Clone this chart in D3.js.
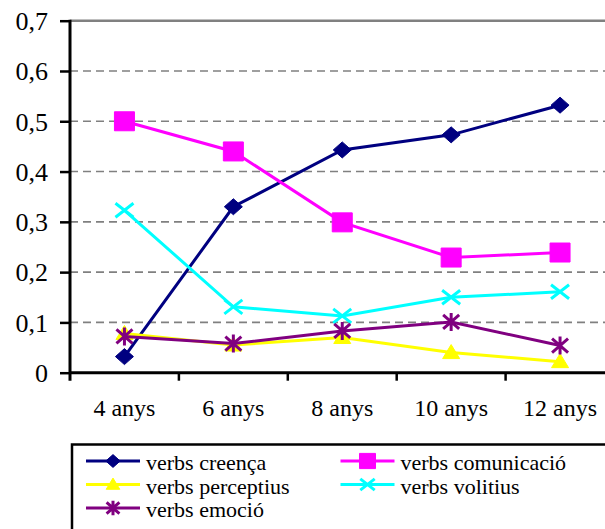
<!DOCTYPE html>
<html>
<head>
<meta charset="utf-8">
<script src="https://cdn.jsdelivr.net/npm/d3@7"></script>
<style>
  html, body { margin: 0; padding: 0; background: #fff; }
  svg { display: block; }
</style>
</head>
<body>
<svg id="chart" width="605" height="529" font-family="Liberation Serif"></svg>
<script>
// Age groups along the x axis
const categories = ["4 anys", "6 anys", "8 anys", "10 anys", "12 anys"];
const yTicks = [0, 0.1, 0.2, 0.3, 0.4, 0.5, 0.6, 0.7];

// Proportion of each verb type per age group
const creenca     = [0.032, 0.330, 0.443, 0.473, 0.532];
const comunicacio = [0.500, 0.440, 0.299, 0.229, 0.239];
const perceptius  = [0.078, 0.055, 0.070, 0.040, 0.022];
const volitius    = [0.323, 0.131, 0.113, 0.150, 0.161];
const emocio      = [0.072, 0.058, 0.083, 0.101, 0.054];

const seriesNames = ["verbs creença", "verbs comunicació", "verbs perceptius", "verbs volitius", "verbs emoció"];
const seriesValues = [creenca, comunicacio, perceptius, volitius, emocio];
const seriesColors = ["#000080", "#FF00FF", "#FFFF00", "#00FFFF", "#800080"];
const seriesMarkers = ["diamond", "square", "triangle", "cross", "star"];

const FONT = "Liberation Serif";
const svg = d3.select("#chart");

const plot = { left: 70, top: 20.7, right: 614.5, bottom: 372.7 };

const x = d3.scaleBand().domain(categories).range([plot.left, plot.right]);
const y = d3.scaleLinear().domain([0, 0.7]).range([plot.bottom, plot.top]);
const cx = c => x(c) + x.bandwidth() / 2;

// Horizontal gridlines (dashed), top border solid
svg.append("g").selectAll("line")
  .data(yTicks.filter(t => t > 0 && t < 0.7))
  .join("line")
  .attr("x1", plot.left).attr("x2", 605)
  .attr("y1", d => y(d)).attr("y2", d => y(d))
  .attr("stroke", "#808080").attr("stroke-width", 1.6)
  .attr("stroke-dasharray", "8,5");

svg.append("line")
  .attr("x1", plot.left).attr("x2", 605)
  .attr("y1", y(0.7)).attr("y2", y(0.7))
  .attr("stroke", "#808080").attr("stroke-width", 2.5);

// Y axis
const yAxis = d3.axisLeft(y)
  .tickValues(yTicks)
  .tickSize(10)
  .tickPadding(12)
  .tickFormat(d => d === 0 ? "0" : d3.format(".1f")(d).replace(".", ","));

const gy = svg.append("g").attr("transform", `translate(${plot.left},0)`).call(yAxis);
gy.attr("font-family", FONT).attr("font-size", 26);
gy.select(".domain").remove();
gy.selectAll(".tick line").attr("stroke", "#000").attr("stroke-width", 2.5);
gy.selectAll(".tick text")
  .attr("font-family", FONT)
  .attr("font-size", 26)
  .attr("fill", "#000")
  .attr("dy", "0.34em");
svg.append("line")
  .attr("x1", plot.left).attr("x2", plot.left)
  .attr("y1", plot.top - 1).attr("y2", plot.bottom + 8)
  .attr("stroke", "#000").attr("stroke-width", 3);

// X axis: ticks between categories, labels centred
const gx = svg.append("g").attr("transform", `translate(0,${plot.bottom})`);
gx.append("line")
  .attr("x1", plot.left).attr("x2", 605)
  .attr("y1", 0).attr("y2", 0)
  .attr("stroke", "#000").attr("stroke-width", 3);
gx.selectAll("line.tk")
  .data(categories.slice(1))
  .join("line")
  .attr("class", "tk")
  .attr("x1", d => x(d)).attr("x2", d => x(d))
  .attr("y1", 0).attr("y2", 8)
  .attr("stroke", "#000").attr("stroke-width", 2.5);
gx.selectAll("text")
  .data(categories)
  .join("text")
  .attr("x", d => cx(d))
  .attr("y", 43.5)
  .attr("text-anchor", "middle")
  .attr("font-family", FONT)
  .attr("font-size", 24)
  .attr("fill", "#000")
  .text(d => d);

// Marker shapes
function markerPath(type, s) {
  switch (type) {
    case "diamond": return `M0,${-8*s}L${9*s},0L0,${8*s}L${-9*s},0Z`;
    case "square": return `M${-10*s},${-9.5*s}H${10*s}V${9.5*s}H${-10*s}Z`;
    case "triangle": return `M0,${-8*s}L${8.5*s},${6*s}L${-8.5*s},${6*s}Z`;
    case "cross": return `M${-9*s},${-7*s}L${9*s},${7*s}M${9*s},${-7*s}L${-9*s},${7*s}`;
    case "star": return `M${-8*s},${-7*s}L${8*s},${7*s}M${8*s},${-7*s}L${-8*s},${7*s}M0,${-9*s}V${9*s}`;
  }
}
function drawMarker(sel, type, color, s) {
  const filled = type === "diamond" || type === "square" || type === "triangle";
  sel.append("path")
    .attr("d", markerPath(type, s))
    .attr("fill", filled ? color : "none")
    .attr("stroke", color)
    .attr("stroke-width", filled ? 1 : 3);
}

// Series lines and markers
const line = d3.line().x((d, i) => cx(categories[i])).y(d => y(d));
seriesValues.forEach((vals, k) => {
  const g = svg.append("g");
  g.append("path")
    .attr("d", line(vals))
    .attr("fill", "none")
    .attr("stroke", seriesColors[k])
    .attr("stroke-width", 3);
  vals.forEach((v, i) => {
    const m = g.append("g").attr("transform", `translate(${cx(categories[i])},${y(v)})`);
    drawMarker(m, seriesMarkers[k], seriesColors[k], 1);
  });
});

// Legend
const legend = svg.append("g");
legend.append("rect")
  .attr("x", 72).attr("y", 444.5)
  .attr("width", 600).attr("height", 120)
  .attr("fill", "#fff").attr("stroke", "#000").attr("stroke-width", 2.5);

const colX = [86, 340.5];
const rowY = [461, 484.5, 508];
seriesNames.forEach((name, k) => {
  const col = k % 2, row = Math.floor(k / 2);
  const lx = colX[col], ly = rowY[row];
  const it = legend.append("g");
  it.append("line")
    .attr("x1", lx).attr("x2", lx + 54)
    .attr("y1", ly).attr("y2", ly)
    .attr("stroke", seriesColors[k]).attr("stroke-width", 3);
  const m = it.append("g").attr("transform", `translate(${lx + 27},${ly})`);
  drawMarker(m, seriesMarkers[k], seriesColors[k], 0.8);
  it.append("text")
    .attr("x", lx + 60)
    .attr("y", ly + 9)
    .attr("font-family", FONT)
    .attr("font-size", 22)
    .attr("fill", "#000")
    .text(name);
});
</script>
</body>
</html>
